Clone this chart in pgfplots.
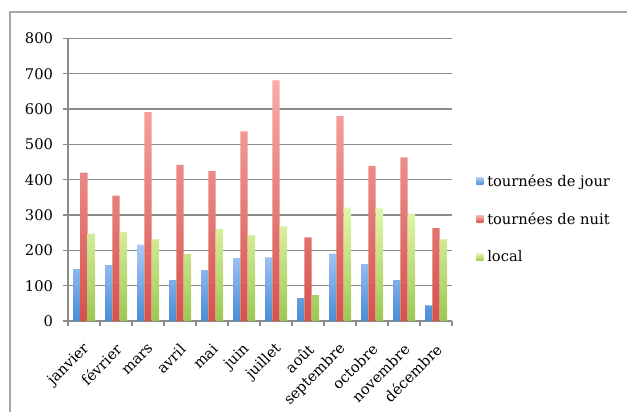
\documentclass[border=0pt]{standalone}
\usepackage{fontspec}
\setmainfont{DejaVu Serif}
\usepackage{pgfplots}
\pgfplotsset{compat=1.18}

\definecolor{blueTop}{HTML}{A9CBF7}
\definecolor{blueBot}{HTML}{4A8CD6}
\definecolor{redTop}{HTML}{F9ABA7}
\definecolor{redBot}{HTML}{D6514C}
\definecolor{greenTop}{HTML}{E2F7AE}
\definecolor{greenBot}{HTML}{9FC652}
\definecolor{gridgray}{HTML}{8C8C8C}
\definecolor{framegray}{HTML}{A6A6A6}

\begin{document}
\begin{tikzpicture}[x=1pt,y=1pt]
\useasboundingbox (0,0) rectangle (470.25,309);
\draw[framegray, line width=0.9pt] (7.5,0) -- (7.5,300) -- (470.25,300);
\begin{axis}[
    at={(51pt,68.25pt)}, anchor=south west,
    scale only axis,
    width=288pt, height=212pt,
    ybar=0pt,
    bar width=5.5pt,
    xmin=-0.5, xmax=11.5,
    ymin=0, ymax=800,
    ytick={0,100,...,800},
    xtick={-0.5,0.5,...,11.5},
    xticklabels={},
    extra x ticks={0,1,...,11},
    extra x tick labels={janvier,février,mars,avril,mai,juin,juillet,août,septembre,octobre,novembre,décembre},
    extra x tick style={
        major tick length=0pt, grid=none,
        xticklabel style={xshift=3pt, yshift=-18.5pt, rotate=45, anchor=east, inner sep=1pt},
    },
    axis x line*=bottom,
    axis y line*=left,
    axis line style={-, gridgray, line width=0.9pt},
    tick align=outside,
    major tick length=3.75pt,
    tick style={gridgray, line width=0.9pt},
    ymajorgrids,
    grid style={gridgray, line width=0.9pt},
    /pgf/number format/assume math mode=true,
    ticklabel style={font=\fontsize{11}{13}\selectfont},
    yticklabel style={xshift=-4pt},
    legend style={
        at={(1.0625,0.361)}, anchor=west,
        draw=none, fill=none, inner sep=0pt,
        nodes={inner sep=0pt, anchor=west},
        column sep=3pt, row sep=18.25pt,
        font=\fontsize{11}{13}\selectfont,
    },
    legend cell align=left,
    legend image code/.code={
        \path[#1, draw=none] (0pt,-2.6pt) rectangle (5.25pt,2.6pt);
    },
]
\addplot[draw=none, top color=blueTop, bottom color=blueBot] coordinates {
    (0,147) (1,158) (2,216) (3,116) (4,144) (5,178)
    (6,180) (7,65) (8,191) (9,161) (10,116) (11,44)
};
\addplot[draw=none, top color=redTop, bottom color=redBot] coordinates {
    (0,420) (1,355) (2,591) (3,442) (4,424) (5,537)
    (6,681) (7,237) (8,580) (9,439) (10,463) (11,263)
};
\addplot[draw=none, top color=greenTop, bottom color=greenBot] coordinates {
    (0,247) (1,252) (2,231) (3,189) (4,260) (5,242)
    (6,268) (7,73) (8,321) (9,319) (10,304) (11,231)
};
\legend{tournées de jour, tournées de nuit, local}
\end{axis}
\end{tikzpicture}
\end{document}
